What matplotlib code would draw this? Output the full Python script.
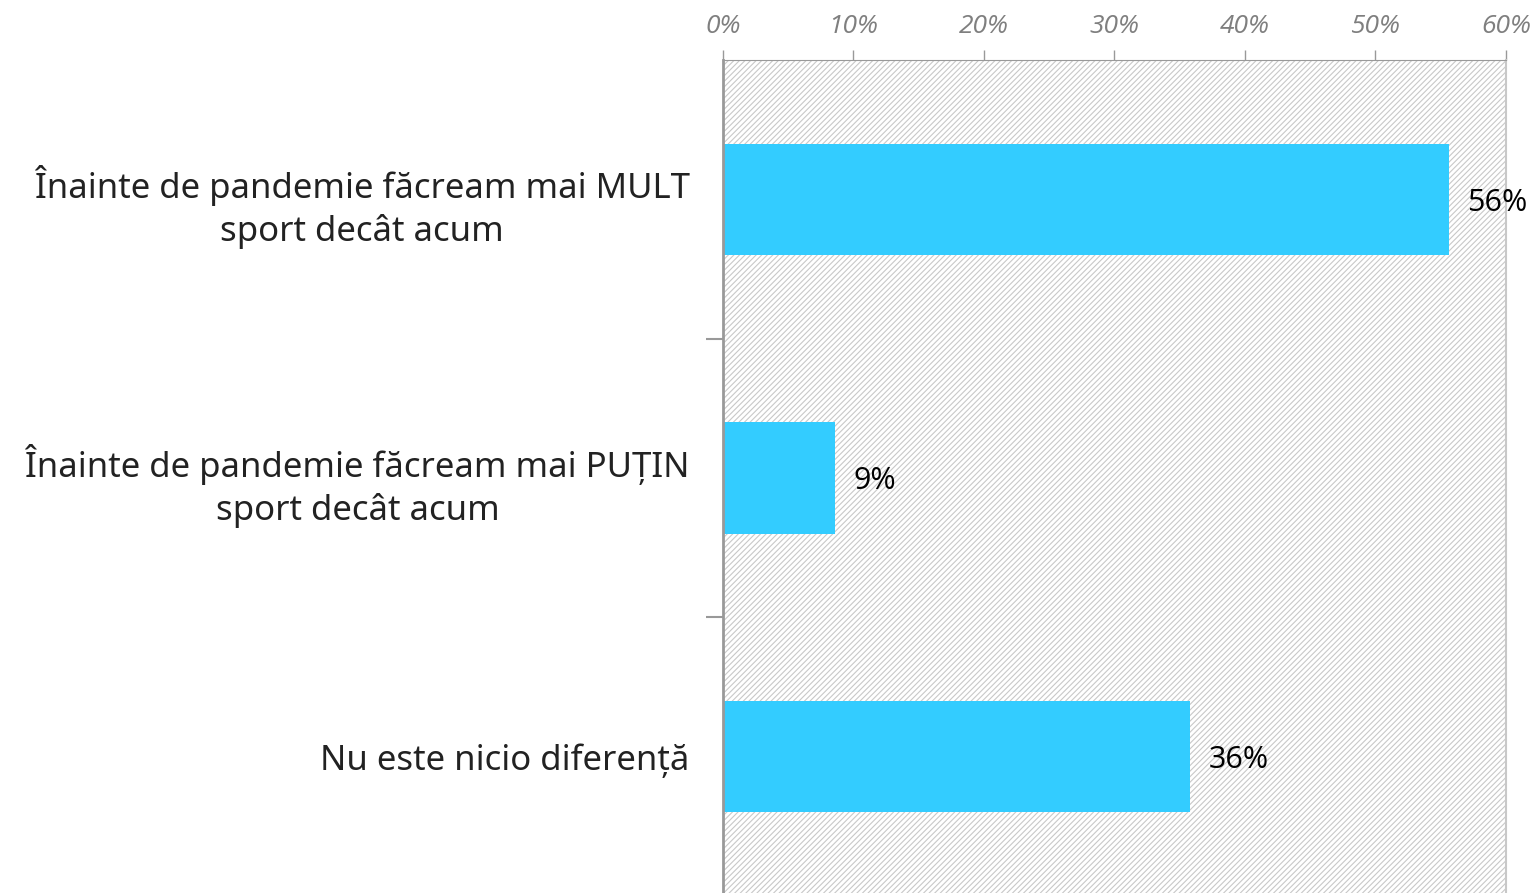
import matplotlib.pyplot as plt
from matplotlib.patches import Rectangle

categories = ['Înainte de pandemie făcream mai MULT\nsport decât acum',
              'Înainte de pandemie făcream mai PUȚIN\nsport decât acum',
              'Nu este nicio diferență']
values = [55.6, 8.6, 35.8]
labels = ['56%', '9%', '36%']
ticks = [0, 10, 20, 30, 40, 50, 60]

plt.rcParams['hatch.linewidth'] = 0.8
plt.rcParams['hatch.color'] = '#c8c8c8'

fig = plt.figure(figsize=(15.34, 8.93), dpi=100)
ax = fig.add_axes([0.4713, -0.0034, 0.5104, 0.9362])

# hatched background
ax.add_patch(Rectangle((0, 0), 1, 1, transform=ax.transAxes, facecolor='white',
                       edgecolor='#c8c8c8', hatch='//////', linewidth=0, zorder=0))

pos = list(range(len(categories)))
ax.barh(pos, values, height=0.4, color='#33ccff', zorder=2)
for p, v, l in zip(pos, values, labels):
    ax.text(v + 1.4, p + 0.012, l, va='center', ha='left', fontsize=22,
            family='Open Sans', color='black')

ax.set_xlim(0, 60)
ax.set_ylim(2.5, -0.5)
ax.xaxis.tick_top()
ax.set_xticks(ticks)
ax.set_xticklabels([f'{t}%' for t in ticks], fontsize=19, style='italic',
                   family='Open Sans', color='#7f7f7f')
ax.tick_params(axis='x', direction='out', length=7, width=1, color='#999999',
               pad=8)
for t in ax.xaxis.get_major_ticks():
    t.tick2line.set_linestyle((0, (1, 1.5)))

ax.set_yticks(pos)
ax.set_yticklabels(categories, fontsize=25, family='Noto Sans', color='#222222',
                   ha='right', multialignment='center', linespacing=1.3)
ax.tick_params(axis='y', which='major', length=0, pad=24)
ax.set_yticks([0.5, 1.5], minor=True)
ax.tick_params(axis='y', which='minor', length=12, width=1.5, color='#999999')

ax.spines['left'].set_color('#999999')
ax.spines['left'].set_linewidth(2)
ax.spines['top'].set_color('#999999')
ax.spines['top'].set_linestyle((0, (1, 1)))
ax.spines['right'].set_color('#c8c8c8')
ax.spines['right'].set_linewidth(1.5)
ax.spines['bottom'].set_visible(False)

fig.savefig('out.png', dpi=100)
